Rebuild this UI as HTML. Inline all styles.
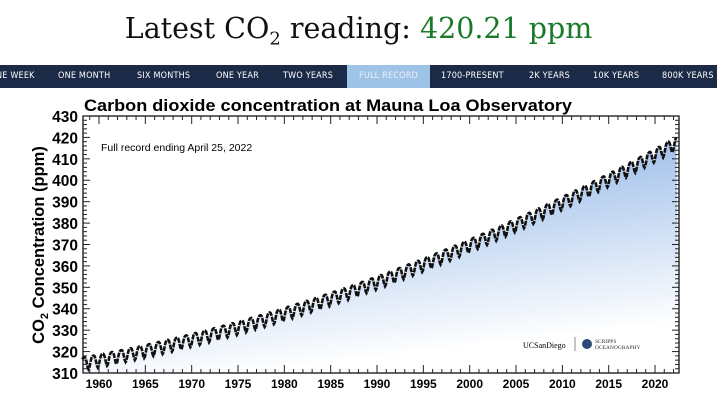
<!DOCTYPE html><html><head><style>
body{margin:0;width:717px;height:403px;background:#fff;overflow:hidden;font-family:"Liberation Sans",sans-serif;position:relative}
.t{position:absolute;top:12px;left:0;width:717px;text-align:center;font-family:"DejaVu Serif",serif;font-size:28.5px;color:#111}
.t span{color:#1a7a2a}
.nav{position:absolute;top:65px;left:0;width:717px;height:23px;background:#1b2a47}
.nav div{position:absolute;top:0;height:23px;line-height:23px;color:#fff;font-size:9px;letter-spacing:.2px;font-family:"DejaVu Sans Condensed","Liberation Sans Narrow",sans-serif;white-space:nowrap}
</style></head><body>
<div class="t">Latest CO<sub style="font-size:18px">2</sub> reading: <span>420.21 ppm</span></div>
<div class="nav">
<div style="left:-4px">NE WEEK</div><div style="left:58px">ONE MONTH</div><div style="left:137px">SIX MONTHS</div><div style="left:216px">ONE YEAR</div><div style="left:283px">TWO YEARS</div>
<div style="left:347px;width:83px;background:#9fc3e6;text-align:center;color:#e8f0fa">FULL RECORD</div>
<div style="left:441px">1700-PRESENT</div><div style="left:529px">2K YEARS</div><div style="left:593px">10K YEARS</div><div style="left:662px">800K YEARS</div></div>
<svg id="s" width="717" height="403" style="position:absolute;top:0;left:0"></svg>
<script>
const s=document.getElementById('s');let h='';
const X0=83,X1=679,Y0=116,Y1=373;
const xf=t=>99+(t-1960)*9.267, yf=v=>373-(v-310)*2.1417;
h+='<defs><linearGradient id="g" x1="0" y1="0" x2="0.3" y2="1"><stop offset="0" stop-color="#7ea9e3"/><stop offset="1" stop-color="#fff"/></linearGradient></defs>';
let pts=[];for(let t=1958.2;t<=2022.32;t+=1/12){const d=t-1958;let v=314.6+0.78*d+0.0128*d*d+3*Math.sin(2*Math.PI*(t-0.13))+0.6*Math.sin(4*Math.PI*t);pts.push([xf(t),yf(v)]);}
let p=pts.map(q=>q[0].toFixed(1)+','+q[1].toFixed(1)).join(' ');
h+=`<polygon points="${X0},${Y1} ${p} ${X1},${Y1}" fill="url(#g)"/>`;
h+=`<polyline points="${p}" fill="none" stroke="#111" stroke-width="2.6" stroke-dasharray="5 1"/>`;
h+=`<rect x="${X0}" y="${Y0}" width="${X1-X0}" height="${Y1-Y0}" fill="none" stroke="#111" stroke-width="1.3"/>`;
for(let v=310;v<=430;v+=2){const y=yf(v),l=v%10?4:7;h+=`<line x1="${X0}" x2="${X0+l}" y1="${y}" y2="${y}" stroke="#222"/><line x1="${X1}" x2="${X1-l}" y1="${y}" y2="${y}" stroke="#222"/>`;if(v%10==0)h+=`<text x="78" y="${y+6}" text-anchor="end" font-size="15.5" font-weight="bold">${v}</text>`;}
for(let t=1959;t<=2022;t++){const x=xf(t),l=t%5?4:8;h+=`<line x1="${x}" x2="${x}" y1="${Y1}" y2="${Y1-l}" stroke="#222"/><line x1="${x}" x2="${x}" y1="${Y0}" y2="${Y0+l}" stroke="#222"/>`;if(t%5==0)h+=`<text x="${x}" y="388" text-anchor="middle" font-size="12" font-weight="bold">${t}</text>`;}
h+='<text x="84" y="111" font-size="16.5" font-weight="bold" textLength="488" lengthAdjust="spacingAndGlyphs">Carbon dioxide concentration at Mauna Loa Observatory</text>';
h+='<text x="101" y="151" font-size="10.5">Full record ending April 25, 2022</text>';
h+='<text transform="translate(44,245) rotate(-90)" text-anchor="middle" font-size="16.5" font-weight="bold">CO<tspan font-size="11" dy="4">2</tspan><tspan dy="-4"> Concentration (ppm)</tspan></text>';
h+='<text x="523" y="348" font-size="8" font-family="Liberation Serif">UCSanDiego</text><line x1="575" x2="575" y1="337" y2="351" stroke="#888"/><circle cx="587" cy="344" r="5" fill="#2a4a7a"/><text x="595" y="343" font-size="5.5" font-family="Liberation Serif" fill="#333">SCRIPPS</text><text x="595" y="349" font-size="5.5" font-family="Liberation Serif" fill="#333">OCEANOGRAPHY</text>';
s.innerHTML=h;
</script></body></html>
